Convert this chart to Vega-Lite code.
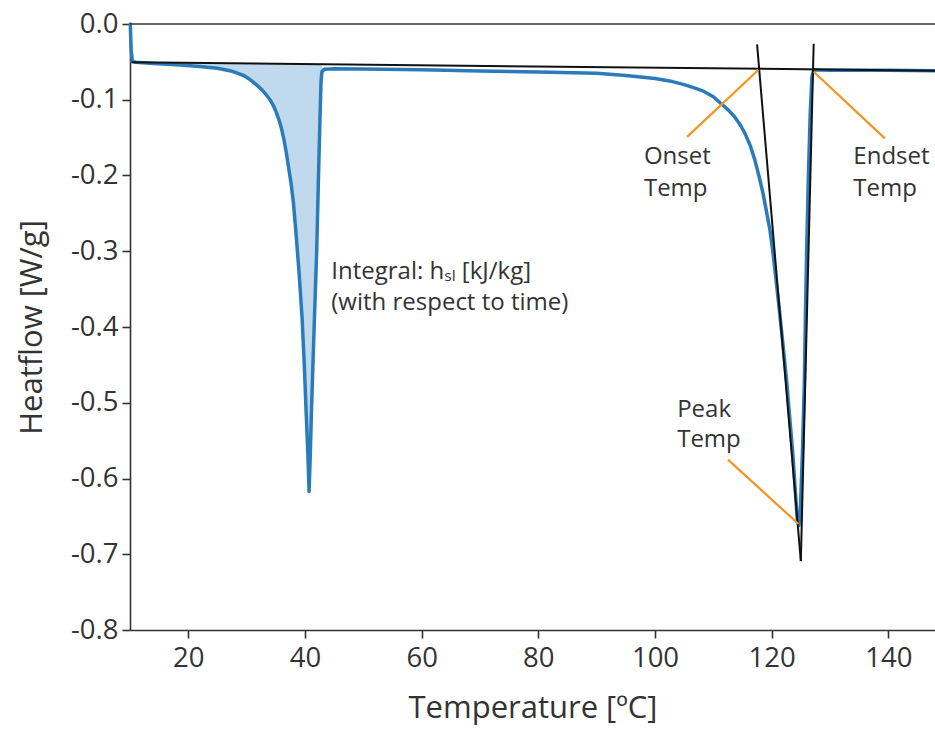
{
  "$schema": "https://vega.github.io/schema/vega-lite/v6.json",
  "width": 805,
  "height": 606,
  "autosize": {"type": "none"},
  "padding": {"left": 130, "top": 24, "right": 0, "bottom": 99},
  "background": "white",
  "config": {
    "view": {"stroke": null},
    "axis": {
      "domainColor": "#333333", "domainWidth": 1.6,
      "tickColor": "#333333", "tickWidth": 1.6, "tickSize": 8,
      "labelColor": "#333333", "titleColor": "#333333",
      "labelFont": "Open Sans", "titleFont": "Open Sans",
      "labelFontSize": 27.5, "titleFontSize": 31, "titleFontWeight": "normal",
      "grid": false
    }
  },
  "datasets": {
    "curve": [
      {"t": 10.05, "hf": 0.0}, {"t": 10.2, "hf": -0.035}, {"t": 10.4, "hf": -0.0495}, {"t": 11, "hf": -0.0505},
      {"t": 14, "hf": -0.052}, {"t": 18.6, "hf": -0.054}, {"t": 22, "hf": -0.056}, {"t": 25, "hf": -0.0585},
      {"t": 27.3, "hf": -0.062}, {"t": 29.5, "hf": -0.068}, {"t": 30.5, "hf": -0.073}, {"t": 31.5, "hf": -0.079},
      {"t": 32.5, "hf": -0.086}, {"t": 33.3, "hf": -0.093}, {"t": 34.0, "hf": -0.1}, {"t": 34.6, "hf": -0.108},
      {"t": 35.1, "hf": -0.117}, {"t": 35.6, "hf": -0.128}, {"t": 36.0, "hf": -0.139}, {"t": 36.4, "hf": -0.153},
      {"t": 36.8, "hf": -0.17}, {"t": 37.2, "hf": -0.19}, {"t": 37.6, "hf": -0.21}, {"t": 38.0, "hf": -0.235},
      {"t": 38.5, "hf": -0.28}, {"t": 39.0, "hf": -0.33}, {"t": 39.5, "hf": -0.388}, {"t": 39.85, "hf": -0.445},
      {"t": 40.2, "hf": -0.513}, {"t": 40.5, "hf": -0.57}, {"t": 40.7, "hf": -0.617}, {"t": 40.9, "hf": -0.57},
      {"t": 41.1, "hf": -0.513}, {"t": 41.4, "hf": -0.44}, {"t": 41.65, "hf": -0.381}, {"t": 42.0, "hf": -0.3},
      {"t": 42.3, "hf": -0.206}, {"t": 42.55, "hf": -0.13}, {"t": 42.75, "hf": -0.075}, {"t": 42.9, "hf": -0.063},
      {"t": 43.3, "hf": -0.0597}, {"t": 45, "hf": -0.059}, {"t": 50, "hf": -0.0595}, {"t": 60, "hf": -0.0605},
      {"t": 70, "hf": -0.062}, {"t": 80, "hf": -0.0635}, {"t": 90, "hf": -0.065}, {"t": 95, "hf": -0.068},
      {"t": 100, "hf": -0.072}, {"t": 103, "hf": -0.076}, {"t": 105, "hf": -0.08}, {"t": 107, "hf": -0.085},
      {"t": 108.4, "hf": -0.089}, {"t": 110, "hf": -0.096}, {"t": 111.3, "hf": -0.105}, {"t": 112.5, "hf": -0.113},
      {"t": 113.6, "hf": -0.122}, {"t": 114.6, "hf": -0.133}, {"t": 115.4, "hf": -0.144}, {"t": 116.3, "hf": -0.16},
      {"t": 117.1, "hf": -0.179}, {"t": 117.8, "hf": -0.2}, {"t": 118.5, "hf": -0.223}, {"t": 119.1, "hf": -0.247},
      {"t": 119.7, "hf": -0.272}, {"t": 120.2, "hf": -0.3}, {"t": 121.1, "hf": -0.362}, {"t": 121.9, "hf": -0.42},
      {"t": 122.6, "hf": -0.474}, {"t": 123.1, "hf": -0.52}, {"t": 123.6, "hf": -0.565}, {"t": 124.0, "hf": -0.61},
      {"t": 124.4, "hf": -0.655}, {"t": 124.65, "hf": -0.662}, {"t": 124.9, "hf": -0.645}, {"t": 125.3, "hf": -0.56},
      {"t": 125.6, "hf": -0.474}, {"t": 125.8, "hf": -0.38}, {"t": 126.0, "hf": -0.298}, {"t": 126.3, "hf": -0.2},
      {"t": 126.6, "hf": -0.12}, {"t": 126.9, "hf": -0.07}, {"t": 127.2, "hf": -0.0605}, {"t": 130, "hf": -0.061},
      {"t": 140, "hf": -0.0612}, {"t": 148, "hf": -0.0616}
    ],
    "integral": [
      {"t": 10.4, "hf": -0.0495, "base": -0.0496}, {"t": 11, "hf": -0.0505, "base": -0.0506},
      {"t": 14, "hf": -0.052, "base": -0.0508}, {"t": 18.6, "hf": -0.054, "base": -0.0512},
      {"t": 22, "hf": -0.056, "base": -0.0514}, {"t": 25, "hf": -0.0585, "base": -0.0517},
      {"t": 27.3, "hf": -0.062, "base": -0.0519}, {"t": 29.5, "hf": -0.068, "base": -0.0521},
      {"t": 30.5, "hf": -0.073, "base": -0.0521}, {"t": 31.5, "hf": -0.079, "base": -0.0522},
      {"t": 32.5, "hf": -0.086, "base": -0.0523}, {"t": 33.3, "hf": -0.093, "base": -0.0524},
      {"t": 34.0, "hf": -0.1, "base": -0.0524}, {"t": 34.6, "hf": -0.108, "base": -0.0525},
      {"t": 35.1, "hf": -0.117, "base": -0.0525}, {"t": 35.6, "hf": -0.128, "base": -0.0525},
      {"t": 36.0, "hf": -0.139, "base": -0.0526}, {"t": 36.4, "hf": -0.153, "base": -0.0526},
      {"t": 36.8, "hf": -0.17, "base": -0.0526}, {"t": 37.2, "hf": -0.19, "base": -0.0527},
      {"t": 37.6, "hf": -0.21, "base": -0.0527}, {"t": 38.0, "hf": -0.235, "base": -0.0527},
      {"t": 38.5, "hf": -0.28, "base": -0.0528}, {"t": 39.0, "hf": -0.33, "base": -0.0528},
      {"t": 39.5, "hf": -0.388, "base": -0.0529}, {"t": 39.85, "hf": -0.445, "base": -0.0529},
      {"t": 40.2, "hf": -0.513, "base": -0.0529}, {"t": 40.5, "hf": -0.57, "base": -0.053},
      {"t": 40.7, "hf": -0.617, "base": -0.053}, {"t": 40.9, "hf": -0.57, "base": -0.053},
      {"t": 41.1, "hf": -0.513, "base": -0.053}, {"t": 41.4, "hf": -0.44, "base": -0.053},
      {"t": 41.65, "hf": -0.381, "base": -0.053}, {"t": 42.0, "hf": -0.3, "base": -0.0531},
      {"t": 42.3, "hf": -0.206, "base": -0.0531}, {"t": 42.55, "hf": -0.13, "base": -0.0531},
      {"t": 42.75, "hf": -0.075, "base": -0.0531}, {"t": 42.9, "hf": -0.063, "base": -0.0531}
    ],
    "blacklines": [
      {"name": "baseline", "t1": 10.3, "y1": -0.0505, "t2": 148, "y2": -0.0616},
      {"name": "onset tangent", "t1": 117.5, "y1": -0.027, "t2": 125.0, "y2": -0.709},
      {"name": "endset tangent", "t1": 127.2, "y1": -0.026, "t2": 125.0, "y2": -0.709}
    ],
    "pointers": [
      {"name": "Onset", "t1": 117.7, "y1": -0.0607, "t2": 105.5, "y2": -0.149},
      {"name": "Endset", "t1": 127.2, "y1": -0.063, "t2": 139.4, "y2": -0.151},
      {"name": "Peak", "t1": 124.6, "y1": -0.66, "t2": 112.5, "y2": -0.575}
    ],
    "labels": [
      {"t": 98.1, "hf": -0.176, "text": "Onset"},
      {"t": 98.1, "hf": -0.218, "text": "Temp"},
      {"t": 134.0, "hf": -0.176, "text": "Endset"},
      {"t": 134.0, "hf": -0.218, "text": "Temp"},
      {"t": 103.8, "hf": -0.509, "text": "Peak"},
      {"t": 103.8, "hf": -0.549, "text": "Temp"},
      {"t": 44.5, "hf": -0.327, "text": "Integral: hₛₗ [kJ/kg]"},
      {"t": 44.5, "hf": -0.368, "text": "(with respect to time)"}
    ]
  },
  "layer": [
    {
      "data": {"name": "integral"},
      "mark": {"type": "area", "color": "#3a88c8", "opacity": 0.32},
      "encoding": {
        "x": {"field": "t", "type": "quantitative", "scale": {"domain": [10, 148], "nice": false, "zero": false},
              "axis": {"values": [20, 40, 60, 80, 100, 120, 140], "title": "Temperature [ºC]", "labelPadding": 6, "titlePadding": 22}},
        "y": {"field": "hf", "type": "quantitative", "scale": {"domain": [-0.8, 0], "nice": false, "zero": false},
              "axis": {"values": [0, -0.1, -0.2, -0.3, -0.4, -0.5, -0.6, -0.7, -0.8], "format": ".1f",
                       "labelExpr": "replace(datum.label, '\u2212', '-')",
                       "title": "Heatflow [W/g]", "labelPadding": 4, "titlePadding": 22}},
        "y2": {"field": "base"}
      }
    },
    {
      "data": {"name": "curve"},
      "mark": {"type": "line", "color": "#2b7bba", "strokeWidth": 3.5, "strokeJoin": "round", "strokeCap": "round"},
      "encoding": {
        "x": {"field": "t", "type": "quantitative"},
        "y": {"field": "hf", "type": "quantitative"}
      }
    },
    {
      "data": {"name": "blacklines"},
      "mark": {"type": "rule", "color": "#111111", "strokeWidth": 2},
      "encoding": {
        "x": {"field": "t1", "type": "quantitative"},
        "y": {"field": "y1", "type": "quantitative"},
        "x2": {"field": "t2"},
        "y2": {"field": "y2"}
      }
    },
    {
      "data": {"name": "pointers"},
      "mark": {"type": "rule", "color": "#f7931e", "strokeWidth": 2.2},
      "encoding": {
        "x": {"field": "t1", "type": "quantitative"},
        "y": {"field": "y1", "type": "quantitative"},
        "x2": {"field": "t2"},
        "y2": {"field": "y2"}
      }
    },
    {
      "data": {"values": [{"hf": 0}]},
      "mark": {"type": "rule", "color": "#333333", "strokeWidth": 1.6},
      "encoding": {"y": {"field": "hf", "type": "quantitative"}}
    },
    {
      "data": {"name": "labels"},
      "mark": {"type": "text", "align": "left", "baseline": "middle", "font": "Open Sans", "fontSize": 24, "color": "#333333"},
      "encoding": {
        "x": {"field": "t", "type": "quantitative"},
        "y": {"field": "hf", "type": "quantitative"},
        "text": {"field": "text"}
      }
    }
  ]
}
